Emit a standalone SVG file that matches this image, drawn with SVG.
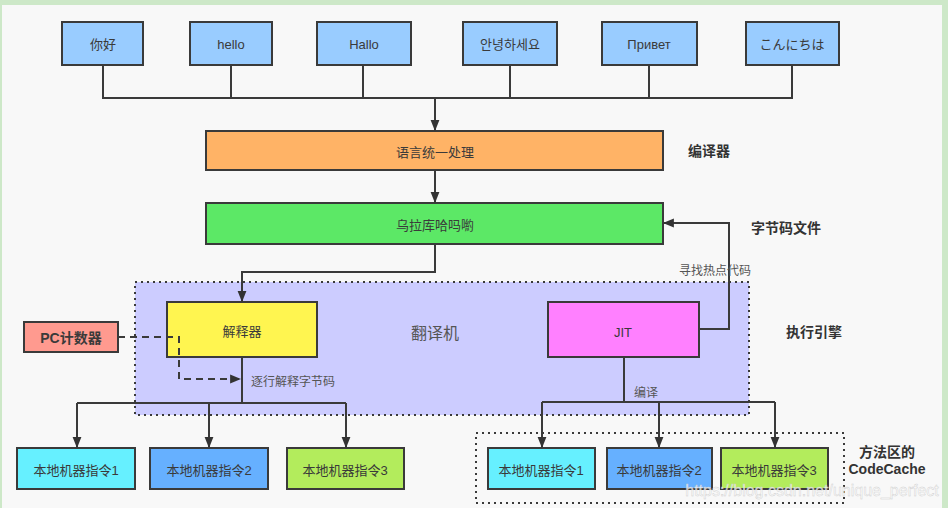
<svg xmlns="http://www.w3.org/2000/svg" width="948" height="508" viewBox="0 0 948 508">
<defs>
<marker id="arrL" viewBox="0 0 10 10" refX="9" refY="5" markerWidth="11" markerHeight="11" markerUnits="userSpaceOnUse" orient="auto">
<path d="M0,1 L10,5 L0,9 z" fill="#333"/>
</marker>
<style>
.n{stroke:#3a3a3a;stroke-width:2}
.t{font-family:"Liberation Sans","Noto Sans CJK SC",sans-serif;font-size:13px;fill:#3a3a3a;text-anchor:middle;dominant-baseline:central}
.b{font-family:"Liberation Sans","Noto Sans CJK SC",sans-serif;font-size:14px;font-weight:bold;fill:#333;dominant-baseline:central}
.c{fill:none;stroke:#3a3a3a;stroke-width:2}
.d{fill:none;stroke:#3a3a3a;stroke-width:2;stroke-dasharray:7,5}
.dot{stroke:#3a3a3a;stroke-width:2;stroke-dasharray:2,4}
.lbl{font-family:"Liberation Sans","Noto Sans CJK SC",sans-serif;font-size:12px;fill:#555;dominant-baseline:central}
</style>
</defs>
<rect x="0" y="0" width="948" height="508" fill="#cde8c8"/>
<rect x="2" y="5" width="940" height="503" fill="#f8f8f8"/>

<g id="engine">
<rect x="135" y="282" width="614" height="133" fill="#ccccff" class="dot"/>
</g>
<g id="codecache">
<rect x="476" y="433" width="368" height="70" fill="none" class="dot"/>
</g>

<g id="n-nihao"><rect class="n" x="62" y="22" width="81" height="43" fill="#99ccff"/><text class="t" x="103" y="44">你好</text></g>
<g id="n-hello"><rect class="n" x="190" y="22" width="82" height="43" fill="#99ccff"/><text class="t" x="231" y="44">hello</text></g>
<g id="n-hallo"><rect class="n" x="317" y="22" width="94" height="43" fill="#99ccff"/><text class="t" x="364" y="44">Hallo</text></g>
<g id="n-ko"><rect class="n" x="463" y="22" width="94" height="43" fill="#99ccff"/><text class="t" x="510" y="44">안녕하세요</text></g>
<g id="n-ru"><rect class="n" x="602" y="22" width="95" height="43" fill="#99ccff"/><text class="t" x="649" y="44">Привет</text></g>
<g id="n-ja"><rect class="n" x="746" y="22" width="93" height="43" fill="#99ccff"/><text class="t" x="792" y="44">こんにちは</text></g>

<g id="n-unify"><rect class="n" x="206" y="131" width="457" height="39" fill="#ffb366"/><text class="t" x="435" y="152">语言统一处理</text></g>
<g id="n-bytecode"><rect class="n" x="206" y="203" width="457" height="41" fill="#5ce866"/><text class="t" x="435" y="225">乌拉库哈吗喲</text></g>

<g id="n-interp"><rect class="n" x="167" y="302" width="150" height="55" fill="#fff550"/><text class="t" x="242" y="331">解释器</text></g>
<g id="n-jit"><rect class="n" x="548" y="302" width="151" height="55" fill="#ff80ff"/><text class="t" x="623" y="332">JIT</text></g>
<g id="n-pc"><rect class="n" x="24" y="322" width="94" height="30" fill="#ff9a8f"/><text class="t" x="71" y="338" style="font-weight:bold;font-size:14px">PC计数器</text></g>
<g id="n-translator"><text class="t" x="435" y="333" style="font-size:16px;fill:#555">翻译机</text></g>

<g id="n-l1"><rect class="n" x="17" y="448" width="118" height="41" fill="#66f0ff"/><text class="t" x="76" y="470">本地机器指令1</text></g>
<g id="n-l2"><rect class="n" x="150" y="448" width="118" height="41" fill="#66b0ff"/><text class="t" x="209" y="470">本地机器指令2</text></g>
<g id="n-l3"><rect class="n" x="287" y="448" width="117" height="41" fill="#b3ec5c"/><text class="t" x="345" y="470">本地机器指令3</text></g>
<g id="n-r1"><rect class="n" x="488" y="448" width="107" height="41" fill="#66f0ff"/><text class="t" x="541" y="470">本地机器指令1</text></g>
<g id="n-r2"><rect class="n" x="607" y="448" width="105" height="41" fill="#66b0ff"/><text class="t" x="659" y="470">本地机器指令2</text></g>
<g id="n-r3"><rect class="n" x="721" y="448" width="107" height="41" fill="#b3ec5c"/><text class="t" x="774" y="470">本地机器指令3</text></g>

<g id="connectors">
<path class="c" d="M103,65 V98 H792 V65 M231,65 V98 M363,65 V98 M510,65 V98 M649,65 V98"/>
<path class="c" d="M435,98 V130" marker-end="url(#arrL)"/>
<path class="c" d="M435,170 V202" marker-end="url(#arrL)"/>
<path class="c" d="M435,244 V272 H242 V301" marker-end="url(#arrL)"/>
<path class="c" d="M699,329 H729 V223 H664" marker-end="url(#arrL)"/>
<path class="d" d="M118,337 H179 V379 H240" marker-end="url(#arrL)"/>
<path class="c" d="M242,357 V403"/>
<path class="c" d="M77,403 H346"/>
<path class="c" d="M77,403 V447" marker-end="url(#arrL)"/>
<path class="c" d="M209,403 V447" marker-end="url(#arrL)"/>
<path class="c" d="M346,403 V447" marker-end="url(#arrL)"/>
<path class="c" d="M624,357 V402"/>
<path class="c" d="M542,402 H775"/>
<path class="c" d="M542,402 V447" marker-end="url(#arrL)"/>
<path class="c" d="M659,402 V447" marker-end="url(#arrL)"/>
<path class="c" d="M775,402 V447" marker-end="url(#arrL)"/>
<text class="lbl" x="679" y="271">寻找热点代码</text>
<text class="lbl" x="251" y="382">逐行解释字节码</text>
<text class="lbl" x="634" y="393">编译</text>
</g>

<g id="labels">
<text class="b" x="688" y="151">编译器</text>
<text class="b" x="751" y="228">字节码文件</text>
<text class="b" x="786" y="332">执行引擎</text>
<text class="b" x="887" y="452" text-anchor="middle">方法区的</text>
<text class="b" x="887" y="469" text-anchor="middle">CodeCache</text>
<text x="812" y="490" style="font-family:'Liberation Sans',sans-serif;font-size:16px;fill:#ffffff;fill-opacity:0.75;text-anchor:middle;dominant-baseline:central;stroke:#cccccc;stroke-width:0.4">https://blog.csdn.net/unique_perfect</text>
</g>
</svg>
